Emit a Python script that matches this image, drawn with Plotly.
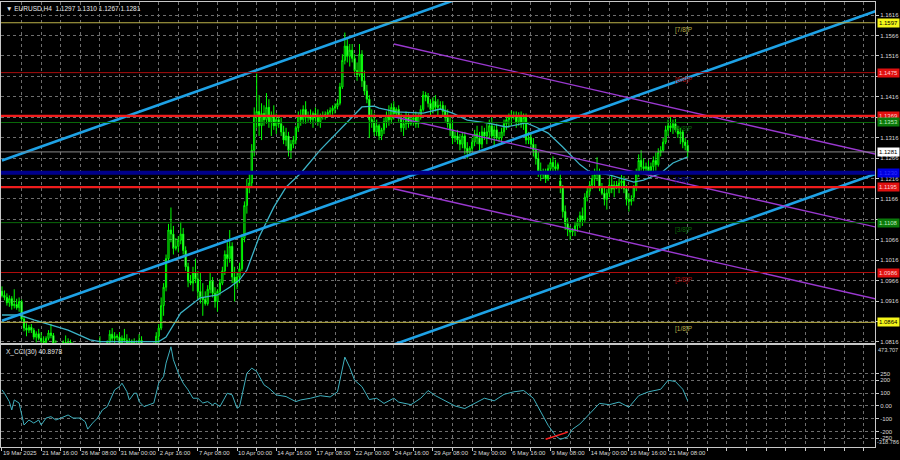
import plotly.graph_objects as go

# ---------------- data (EURUSD H4, 19 Mar 2025 00:00 .. 22 May 2025 16:00) ----------------
opens = [
 1.0940,1.0930,1.0925,1.0912,1.0922,1.0905, 1.0908,1.0900,1.0915,1.0872,1.0850,1.0845,
 1.0852,1.0845,1.0828,1.0836,1.0825,1.0818, 1.0815,1.0825,1.0838,1.0832,1.0812,1.0800,
 1.0802,1.0795,1.0815,1.0805,1.0815,1.0808, 1.0805,1.0795,1.0780,1.0770,1.0758,1.0752,
 1.0755,1.0750,1.0765,1.0785,1.0795,1.0800, 1.0800,1.0805,1.0815,1.0835,1.0825,1.0830,
 1.0828,1.0810,1.0825,1.0820,1.0808,1.0818, 1.0815,1.0810,1.0800,1.0820,1.0790,1.0792,
 1.0795,1.0790,1.0800,1.0812,1.0830,1.0850, 1.0905,1.0950,1.1020,1.1090,1.1080,1.1045,
 1.1050,1.1065,1.1080,1.1040,1.1000,1.0965, 1.0960,1.0985,1.0970,1.0940,1.0925,1.0920,
 1.0910,1.0945,1.0965,1.0935,1.0915,1.0940, 1.0960,1.0990,1.1030,1.1020,1.1050,1.0975,
 1.0960,1.0975,1.0995,1.1070,1.1150,1.1195, 1.1205,1.1285,1.1370,1.1380,1.1345,1.1375,
 1.1360,1.1390,1.1355,1.1370,1.1345,1.1360, 1.1350,1.1330,1.1310,1.1320,1.1285,1.1300,
 1.1310,1.1340,1.1370,1.1360,1.1385,1.1365, 1.1370,1.1360,1.1375,1.1365,1.1355,1.1370,
 1.1370,1.1372,1.1378,1.1382,1.1388,1.1392, 1.1400,1.1440,1.1505,1.1540,1.1515,1.1530,
 1.1510,1.1480,1.1470,1.1520,1.1455,1.1430, 1.1410,1.1360,1.1355,1.1330,1.1345,1.1320,
 1.1335,1.1355,1.1370,1.1360,1.1390,1.1375, 1.1385,1.1365,1.1340,1.1350,1.1365,1.1350,
 1.1360,1.1365,1.1350,1.1368,1.1385,1.1420, 1.1415,1.1400,1.1385,1.1405,1.1390,1.1395,
 1.1395,1.1380,1.1365,1.1350,1.1335,1.1315, 1.1320,1.1310,1.1300,1.1320,1.1290,1.1280,
 1.1290,1.1305,1.1325,1.1315,1.1300,1.1330, 1.1320,1.1330,1.1345,1.1320,1.1335,1.1315,
 1.1315,1.1330,1.1350,1.1360,1.1365,1.1370, 1.1368,1.1355,1.1370,1.1350,1.1365,1.1310,
 1.1315,1.1300,1.1285,1.1265,1.1235,1.1225, 1.1230,1.1215,1.1240,1.1255,1.1245,1.1240,
 1.1210,1.1195,1.1135,1.1105,1.1090,1.1085, 1.1090,1.1100,1.1110,1.1125,1.1115,1.1170,
 1.1185,1.1200,1.1215,1.1225,1.1230,1.1195, 1.1180,1.1165,1.1180,1.1200,1.1190,1.1200,
 1.1195,1.1205,1.1210,1.1190,1.1165,1.1160, 1.1170,1.1195,1.1230,1.1260,1.1245,1.1240,
 1.1245,1.1235,1.1245,1.1260,1.1250,1.1280, 1.1285,1.1305,1.1335,1.1345,1.1340,1.1350,
 1.1335,1.1325,1.1330,1.1305,1.1297]
highs = [
 1.0952,1.0942,1.0935,1.0930,1.0928,1.0945, 1.0922,1.0925,1.0920,1.0880,1.0862,1.0858,
 1.0860,1.0850,1.0842,1.0848,1.0840,1.0830, 1.0830,1.0845,1.0860,1.0838,1.0820,1.0810,
 1.0812,1.0820,1.0832,1.0825,1.0822,1.0815, 1.0810,1.0800,1.0790,1.0785,1.0770,1.0760,
 1.0765,1.0770,1.0790,1.0805,1.0830,1.0808, 1.0812,1.0820,1.0845,1.0850,1.0840,1.0835,
 1.0840,1.0832,1.0848,1.0835,1.0825,1.0822, 1.0825,1.0820,1.0835,1.0830,1.0800,1.0800,
 1.0805,1.0810,1.0815,1.0840,1.0860,1.0925, 1.0960,1.1030,1.1105,1.1145,1.1100,1.1070,
 1.1075,1.1110,1.1095,1.1050,1.1010,1.0980, 1.1000,1.1020,1.0990,1.0985,1.0960,1.0940,
 1.0955,1.0985,1.0975,1.0950,1.0945,1.0970, 1.1000,1.1040,1.1060,1.1090,1.1060,1.1000,
 1.0985,1.1010,1.1080,1.1160,1.1215,1.1230, 1.1300,1.1390,1.1473,1.1420,1.1400,1.1395,
 1.1425,1.1410,1.1380,1.1395,1.1375,1.1370, 1.1365,1.1345,1.1340,1.1330,1.1310,1.1320,
 1.1345,1.1380,1.1385,1.1395,1.1405,1.1380, 1.1385,1.1380,1.1390,1.1385,1.1375,1.1380,
 1.1380,1.1385,1.1390,1.1395,1.1400,1.1410, 1.1450,1.1520,1.1573,1.1560,1.1545,1.1545,
 1.1520,1.1500,1.1545,1.1530,1.1480,1.1445, 1.1420,1.1385,1.1375,1.1360,1.1350,1.1340,
 1.1365,1.1380,1.1395,1.1400,1.1405,1.1390, 1.1395,1.1375,1.1360,1.1380,1.1375,1.1365,
 1.1375,1.1380,1.1375,1.1395,1.1430,1.1428, 1.1425,1.1410,1.1415,1.1420,1.1410,1.1405,
 1.1405,1.1395,1.1385,1.1370,1.1360,1.1330, 1.1335,1.1325,1.1330,1.1330,1.1305,1.1295,
 1.1315,1.1335,1.1345,1.1330,1.1345,1.1340, 1.1350,1.1360,1.1365,1.1345,1.1350,1.1330,
 1.1340,1.1360,1.1370,1.1375,1.1382,1.1380, 1.1380,1.1378,1.1380,1.1375,1.1375,1.1330,
 1.1330,1.1315,1.1300,1.1280,1.1255,1.1240, 1.1240,1.1250,1.1265,1.1270,1.1262,1.1255,
 1.1235,1.1200,1.1150,1.1120,1.1100,1.1095, 1.1110,1.1120,1.1135,1.1145,1.1180,1.1195,
 1.1210,1.1225,1.1240,1.1268,1.1240,1.1205, 1.1195,1.1190,1.1215,1.1225,1.1210,1.1210,
 1.1215,1.1225,1.1222,1.1200,1.1180,1.1175, 1.1200,1.1240,1.1275,1.1285,1.1265,1.1255,
 1.1260,1.1255,1.1270,1.1280,1.1290,1.1295, 1.1315,1.1345,1.1360,1.1370,1.1360,1.1362,
 1.1345,1.1340,1.1335,1.1315,1.1310]
lows = [
 1.0925,1.0918,1.0905,1.0902,1.0895,1.0898, 1.0895,1.0890,1.0868,1.0842,1.0830,1.0838,
 1.0838,1.0822,1.0815,1.0820,1.0800,1.0810, 1.0808,1.0820,1.0825,1.0805,1.0795,1.0795,
 1.0790,1.0790,1.0800,1.0795,1.0800,1.0800, 1.0790,1.0775,1.0765,1.0750,1.0745,1.0745,
 1.0735,1.0740,1.0755,1.0770,1.0785,1.0790, 1.0790,1.0795,1.0810,1.0815,1.0805,1.0820,
 1.0800,1.0795,1.0815,1.0800,1.0800,1.0805, 1.0805,1.0790,1.0795,1.0785,1.0775,1.0785,
 1.0780,1.0785,1.0790,1.0805,1.0800,1.0845, 1.0880,1.0940,1.1010,1.1060,1.1030,1.1040,
 1.1035,1.1055,1.1030,1.0990,1.0950,1.0955, 1.0940,1.0960,1.0920,1.0910,1.0880,1.0905,
 1.0905,1.0935,1.0925,1.0900,1.0890,1.0930, 1.0955,1.0980,1.1000,1.1010,1.0960,1.0915,
 1.0945,1.0960,1.0990,1.1060,1.1130,1.1180, 1.1195,1.1270,1.1340,1.1320,1.1310,1.1345,
 1.1350,1.1340,1.1320,1.1335,1.1325,1.1340, 1.1320,1.1300,1.1295,1.1270,1.1265,1.1290,
 1.1300,1.1330,1.1345,1.1350,1.1350,1.1355, 1.1350,1.1340,1.1355,1.1345,1.1340,1.1360,
 1.1360,1.1365,1.1368,1.1372,1.1375,1.1385, 1.1395,1.1435,1.1495,1.1500,1.1490,1.1500,
 1.1470,1.1455,1.1465,1.1440,1.1420,1.1400, 1.1315,1.1340,1.1320,1.1320,1.1310,1.1310,
 1.1325,1.1340,1.1345,1.1350,1.1360,1.1365, 1.1355,1.1330,1.1320,1.1335,1.1340,1.1345,
 1.1345,1.1340,1.1340,1.1360,1.1380,1.1405, 1.1390,1.1370,1.1375,1.1380,1.1370,1.1385,
 1.1370,1.1355,1.1340,1.1320,1.1300,1.1305, 1.1300,1.1285,1.1290,1.1275,1.1265,1.1275,
 1.1280,1.1295,1.1300,1.1285,1.1290,1.1310, 1.1300,1.1315,1.1310,1.1295,1.1310,1.1305,
 1.1300,1.1320,1.1335,1.1340,1.1345,1.1360, 1.1340,1.1345,1.1340,1.1335,1.1300,1.1300,
 1.1290,1.1270,1.1250,1.1220,1.1210,1.1215, 1.1205,1.1210,1.1225,1.1230,1.1225,1.1235,
 1.1180,1.1120,1.1090,1.1075,1.1065,1.1075, 1.1075,1.1085,1.1095,1.1100,1.1110,1.1160,
 1.1175,1.1190,1.1195,1.1210,1.1185,1.1175, 1.1150,1.1140,1.1170,1.1180,1.1170,1.1190,
 1.1180,1.1190,1.1180,1.1150,1.1135,1.1150, 1.1160,1.1185,1.1220,1.1235,1.1230,1.1230,
 1.1225,1.1220,1.1230,1.1235,1.1245,1.1270, 1.1280,1.1300,1.1320,1.1330,1.1325,1.1330,
 1.1315,1.1300,1.1290,1.1285,1.1267]
closes = [
 1.0930,1.0925,1.0912,1.0922,1.0905,1.0908, 1.0900,1.0915,1.0872,1.0850,1.0845,1.0852,
 1.0845,1.0828,1.0836,1.0825,1.0818,1.0815, 1.0825,1.0838,1.0832,1.0812,1.0800,1.0802,
 1.0795,1.0815,1.0805,1.0815,1.0808,1.0805, 1.0795,1.0780,1.0770,1.0758,1.0752,1.0755,
 1.0750,1.0765,1.0785,1.0795,1.0800,1.0800, 1.0805,1.0815,1.0835,1.0825,1.0830,1.0828,
 1.0810,1.0825,1.0820,1.0808,1.0818,1.0815, 1.0810,1.0800,1.0820,1.0790,1.0792,1.0795,
 1.0790,1.0800,1.0812,1.0830,1.0850,1.0905, 1.0950,1.1020,1.1090,1.1080,1.1045,1.1050,
 1.1065,1.1080,1.1040,1.1000,1.0965,1.0960, 1.0985,1.0970,1.0940,1.0925,1.0920,1.0910,
 1.0945,1.0965,1.0935,1.0915,1.0940,1.0960, 1.0990,1.1030,1.1020,1.1050,1.0975,1.0960,
 1.0975,1.0995,1.1070,1.1150,1.1195,1.1205, 1.1285,1.1370,1.1380,1.1345,1.1375,1.1360,
 1.1390,1.1355,1.1370,1.1345,1.1360,1.1350, 1.1330,1.1310,1.1320,1.1285,1.1300,1.1310,
 1.1340,1.1370,1.1360,1.1385,1.1365,1.1370, 1.1360,1.1375,1.1365,1.1355,1.1370,1.1370,
 1.1372,1.1378,1.1382,1.1388,1.1392,1.1400, 1.1440,1.1505,1.1540,1.1515,1.1530,1.1510,
 1.1480,1.1470,1.1520,1.1455,1.1430,1.1410, 1.1360,1.1355,1.1330,1.1345,1.1320,1.1335,
 1.1355,1.1370,1.1360,1.1390,1.1375,1.1385, 1.1365,1.1340,1.1350,1.1365,1.1350,1.1360,
 1.1365,1.1350,1.1368,1.1385,1.1420,1.1415, 1.1400,1.1385,1.1405,1.1390,1.1395,1.1395,
 1.1380,1.1365,1.1350,1.1335,1.1315,1.1320, 1.1310,1.1300,1.1320,1.1290,1.1280,1.1290,
 1.1305,1.1325,1.1315,1.1300,1.1330,1.1320, 1.1330,1.1345,1.1320,1.1335,1.1315,1.1315,
 1.1330,1.1350,1.1360,1.1365,1.1370,1.1368, 1.1355,1.1370,1.1350,1.1365,1.1310,1.1315,
 1.1300,1.1285,1.1265,1.1235,1.1225,1.1230, 1.1215,1.1240,1.1255,1.1245,1.1240,1.1250,
 1.1195,1.1135,1.1105,1.1090,1.1085,1.1090, 1.1100,1.1110,1.1125,1.1115,1.1170,1.1185,
 1.1200,1.1215,1.1225,1.1230,1.1195,1.1180, 1.1165,1.1180,1.1200,1.1190,1.1200,1.1195,
 1.1205,1.1210,1.1190,1.1165,1.1160,1.1165, 1.1195,1.1230,1.1260,1.1245,1.1240,1.1245,
 1.1235,1.1245,1.1260,1.1250,1.1280,1.1285, 1.1305,1.1335,1.1345,1.1340,1.1350,1.1335,
 1.1325,1.1330,1.1305,1.1297,1.1281]
bars = list(range(len(closes)))

# moving average (cyan line), read at selected bars
ma_bars = [0, 7, 13, 20, 27, 36, 40, 52, 64, 67, 73, 76, 81, 88, 93, 97, 100, 105, 111, 116, 122,
           130, 138, 143, 147, 152, 154, 161, 172, 179, 184, 190, 198, 206, 214, 218, 223, 229, 236,
           240, 248, 258, 262, 269, 274, 280]
ma_vals = [1.0882, 1.0882, 1.0870, 1.0857, 1.0845, 1.0821, 1.0817, 1.0817, 1.0817, 1.0828, 1.0887,
           1.0901, 1.0924, 1.0931, 1.0950, 1.0968, 1.0992, 1.1073, 1.1146, 1.1195, 1.1229, 1.1286,
           1.1335, 1.1366, 1.1391, 1.1393, 1.1388, 1.1379, 1.1376, 1.1386, 1.1376, 1.1359, 1.1352,
           1.1342, 1.1352, 1.1342, 1.1327, 1.1293, 1.1250, 1.1232, 1.1225, 1.1207, 1.1212, 1.1229,
           1.1254, 1.1269]

# CCI(30) sub-window
cci_bars = [0, 1, 3, 4, 5, 7, 9, 11, 13, 15, 16, 18, 20, 22, 24, 27, 29, 32, 34, 35, 37, 39, 41, 43,
            46, 48, 49, 51, 52, 54, 55, 56, 58, 62, 64, 66, 67, 69, 70, 72, 74, 76, 78, 80, 82, 84,
            86, 87, 89, 92, 94, 96, 97, 100, 102, 104, 107, 109, 112, 116, 120, 122,
            126, 130, 134, 137, 140, 142, 144, 147, 150, 153, 156, 160, 162, 167, 171, 174, 177,
            181, 185, 189, 193, 197, 201, 205, 209, 213, 217, 220, 223, 226, 228, 231, 233, 236,
            240, 244, 248, 252, 256, 260, 264, 269, 272, 275, 278, 280]
cci_vals = [125, 99, 34, -31, 47, 23, -148, -109, -133, -109, -148, -94, -83, -109, -94, -70, -94,
            -94, -122, -180, -133, -94, -31, -5, 125, 151, 177, 112, 47, 99, 99, 34, -5, 23, 177,
            229, 333, 460, 359, 255, 177, 125, 60, 60, 23, 34, 8, 23, -5, 99, 86, -18, -5, 255,
            294, 268, 164, 138, 86, 73, 34, 47,
            60, 80, 70, 110, 380, 300, 200, 150, 50, 60, 20, 60, 30, 10, 60, 120, 80,
            40, 0, -20, 20, 60, 40, 90, 110, 120, 60, -40, -150, -230, -260, -240, -180, -140,
            -60, 20, 10, 30, -10, 80, 110, 130, 200, 190, 130, 41]
div_bars = [222, 231]          # red divergence line on the CCI
div_vals = [-258, -203]

# time axis
time_label_bars = [0, 16, 32, 48, 64, 80, 96, 112, 128, 144, 160, 176, 192, 208, 224, 240, 256, 272]
time_labels = ["19 Mar 2025", "21 Mar 16:00", "26 Mar 08:00", "31 Mar 00:00", "2 Apr 16:00",
               "7 Apr 08:00", "10 Apr 00:00", "14 Apr 16:00", "17 Apr 08:00", "22 Apr 00:00",
               "24 Apr 16:00", "29 Apr 08:00", "2 May 00:00", "6 May 16:00", "9 May 08:00",
               "14 May 00:00", "16 May 16:00", "21 May 08:00"]
grid_bars = list(range(0, 360, 8))

price_ticks = [1.0816, 1.0866, 1.0916, 1.0966, 1.1016, 1.1066, 1.1116, 1.1166, 1.1216, 1.1266,
               1.1316, 1.1366, 1.1416, 1.1466, 1.1516, 1.1566, 1.1616]
hidden_ticks = [1.0866, 1.1116, 1.1366, 1.1466]   # covered by the coloured level boxes
cci_ticks = [-250, -200, -100, 0, 100, 200, 250]
cci_tick_text = ["-250", "-200", "-100", "0.00", "100", "200", "250"]
cci_low, cci_high = -318.786, 473.707

# Murrey math levels + hand-drawn lines
level_values = [1.1597, 1.1475, 1.1369, 1.1353, 1.1281, 1.1230, 1.1195, 1.1108, 1.0986, 1.0864]
level_tags = ["[7/8]P", "[6/8]P", "", "[5/8]P", "", "[4/8]P", "", "[3/8]P", "[2/8]P", "[1/8]P"]
level_colors = ["#bdb24a", "#a80c0c", "#f01c1c", "#0a6a0a", "#8a8a8a", "#00008c", "#f01c1c",
                "#0a6a0a", "#b00c0c", "#bdb24a"]
level_widths = [1, 1, 2.2, 1, 1, 4, 2.2, 1, 1, 1]
box_bg = ["#f5f51a", "#e01010", "#e01010", "#0a7a0a", "#ffffff", "#0000e0", "#e01010", "#0a7a0a",
          "#e01010", "#f5f51a"]
box_fg = ["#000000", "#ffd0d0", "#ffd0d0", "#bfe8bf", "#000000", "#3030ff", "#ffd0d0", "#bfe8bf",
          "#ffd0d0", "#000000"]

# channels (anchor bar, price)
blue_bars = [0, 357]
blue_upper = [1.1260, 1.2018]
blue_mid = [1.0868, 1.1626]
blue_lower = [1.0470, 1.1228]
purple_bars = [160, 357]
purple_upper = [1.1545, 1.1275]
purple_mid = [1.1367, 1.1097]
purple_lower = [1.1191, 1.0921]

header = "EURUSD,H4  1.1297 1.1310 1.1267 1.1281"
cci_title = "X_CCI(30) 40.8978"

# ---------------- figure ----------------
FONT = "Liberation Sans"
GRID = "#6e6e6e"
AX = "#c8c8c8"

fig = go.Figure()

fig.add_trace(go.Candlestick(
    x=bars, open=opens, high=highs, low=lows, close=closes,
    increasing=dict(line=dict(color="#00ff00", width=1), fillcolor="#000000"),
    decreasing=dict(line=dict(color="#00ff00", width=1), fillcolor="#d8ffd8"),
    whiskerwidth=0, showlegend=False, hoverinfo="skip", xaxis="x", yaxis="y"))

fig.add_trace(go.Scatter(x=ma_bars, y=ma_vals, mode="lines",
                         line=dict(color="#3cb4c8", width=1.3), showlegend=False,
                         hoverinfo="skip", xaxis="x", yaxis="y"))

for ys in (blue_upper, blue_mid, blue_lower):
    fig.add_trace(go.Scatter(x=blue_bars, y=ys, mode="lines",
                             line=dict(color="#1ea2e6", width=2.6), showlegend=False,
                             hoverinfo="skip", xaxis="x", yaxis="y"))
for ys in (purple_upper, purple_mid, purple_lower):
    fig.add_trace(go.Scatter(x=purple_bars, y=ys, mode="lines",
                             line=dict(color="#9a38d0", width=1.4), showlegend=False,
                             hoverinfo="skip", xaxis="x", yaxis="y"))

fig.add_trace(go.Scatter(x=cci_bars, y=cci_vals, mode="lines",
                         line=dict(color="#3fb0be", width=1), showlegend=False,
                         hoverinfo="skip", xaxis="x2", yaxis="y2"))
fig.add_trace(go.Scatter(x=div_bars, y=div_vals, mode="lines",
                         line=dict(color="#ff2020", width=1.5), showlegend=False,
                         hoverinfo="skip", xaxis="x2", yaxis="y2"))

shapes = []
annotations = []
for v, tag, col, w, bg, fg in zip(level_values, level_tags, level_colors, level_widths, box_bg, box_fg):
    shapes.append(dict(type="line", xref="x domain", yref="y", x0=0, x1=1, y0=v, y1=v,
                       line=dict(color=col, width=w), layer="above"))
    if tag:
        annotations.append(dict(x=274, y=v, xref="x", yref="y", text=tag, showarrow=False,
                                xanchor="left", yanchor="top", yshift=-1,
                                font=dict(family=FONT, size=6.5, color=col)))
    annotations.append(dict(x=1, y=v, xref="paper", yref="y", text=f"{v:.4f}", showarrow=False,
                            xanchor="left", yanchor="middle", xshift=2, bgcolor=bg,
                            borderpad=1, font=dict(family=FONT, size=6, color=fg)))

annotations.append(dict(x=0, y=1, xref="paper", yref="paper", text="▼ " + header, showarrow=False,
                        xanchor="left", yanchor="top", xshift=3, yshift=-1,
                        font=dict(family=FONT, size=6.5, color="#e8e8e8")))
annotations.append(dict(x=0, y=1, xref="paper", yref="y2 domain", text=cci_title, showarrow=False,
                        xanchor="left", yanchor="top", xshift=3, yshift=-1,
                        font=dict(family=FONT, size=6.5, color="#e8e8e8")))
annotations.append(dict(x=1, y=cci_high, xref="paper", yref="y2", text=f"{cci_high:.3f}",
                        showarrow=False, xanchor="left", yanchor="top", xshift=1,
                        font=dict(family=FONT, size=5.6, color="#d8d8d8")))
annotations.append(dict(x=1, y=cci_low, xref="paper", yref="y2", text=f"{cci_low:.3f}",
                        showarrow=False, xanchor="left", yanchor="bottom", xshift=0,
                        font=dict(family=FONT, size=5.6, color="#d8d8d8")))

x_range = [-0.4, 356.5]
grid_text = [time_labels[time_label_bars.index(b)] if b in time_label_bars else "" for b in grid_bars]
price_text = ["" if p in hidden_ticks else f"{p:.4f}" for p in price_ticks]

fig.update_layout(
    width=900, height=460,
    margin=dict(l=1, r=25, t=2, b=13),
    paper_bgcolor="#000000", plot_bgcolor="#000000",
    font=dict(family=FONT, size=6, color="#d8d8d8"),
    shapes=shapes, annotations=annotations, showlegend=False,
    xaxis=dict(domain=[0, 1], range=x_range, anchor="y", rangeslider=dict(visible=False),
               tickvals=grid_bars, showticklabels=False, ticks="",
               showgrid=True, gridcolor=GRID, griddash="dot", gridwidth=1,
               showline=True, linecolor=AX, linewidth=1, mirror=True, zeroline=False),
    yaxis=dict(domain=[0.2337, 1], range=[1.08135, 1.16478], anchor="x", side="right",
               tickvals=price_ticks, ticktext=price_text,
               ticks="outside", ticklen=3, tickcolor=AX,
               showgrid=True, gridcolor=GRID, griddash="dot", gridwidth=1,
               showline=True, linecolor=AX, linewidth=1, mirror=True, zeroline=False,
               tickfont=dict(family=FONT, size=6, color="#d8d8d8")),
    xaxis2=dict(domain=[0, 1], range=x_range, anchor="y2",
                tickvals=grid_bars, ticktext=grid_text, ticks="outside", ticklen=3, tickcolor=AX,
                ticklabelposition="outside right", tickangle=0,
                showgrid=True, gridcolor=GRID, griddash="dot", gridwidth=1,
                showline=True, linecolor=AX, linewidth=1, mirror=True, zeroline=False,
                tickfont=dict(family=FONT, size=6, color="#d8d8d8")),
    yaxis2=dict(domain=[0, 0.2292], range=[cci_low, cci_high], anchor="x2", side="right",
                tickvals=cci_ticks, ticktext=cci_tick_text, ticks="outside", ticklen=3,
                tickcolor=AX, showgrid=True, gridcolor=GRID, griddash="dot", gridwidth=1,
                showline=True, linecolor=AX, linewidth=1, mirror=True, zeroline=False,
                tickfont=dict(family=FONT, size=6, color="#d8d8d8")),
)

fig.write_html("out.html", config={"displayModeBar": False},
               post_script="document.body.style.margin='0';document.body.style.background='#000';")
